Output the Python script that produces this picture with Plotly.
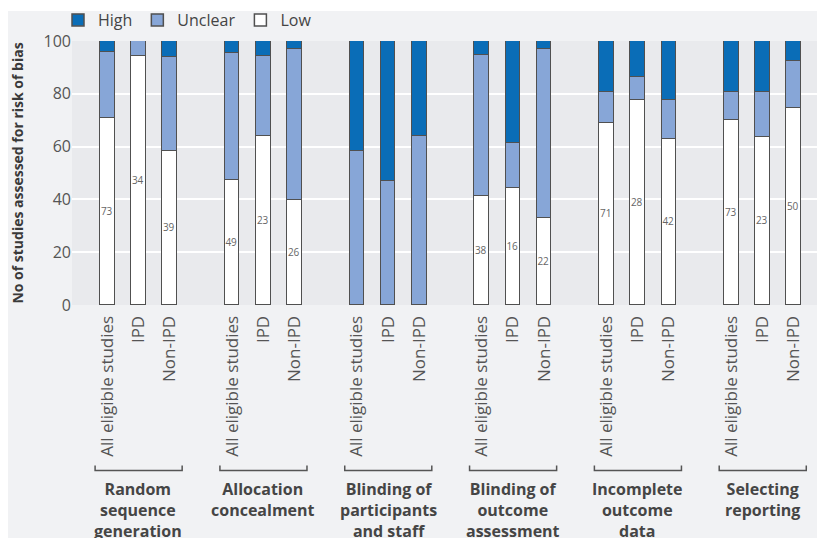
import plotly.graph_objects as go

groups = ["Random<br>sequence<br>generation", "Allocation<br>concealment",
          "Blinding of<br>participants<br>and staff", "Blinding of<br>outcome<br>assessment",
          "Incomplete<br>outcome<br>data", "Selecting<br>reporting"]
subgroups = ["All eligible studies", "IPD", "Non-IPD"]

low = [70.9, 94.4, 58.4, 47.4, 64.0, 39.6, 0, 0, 0,
       41.3, 44.4, 32.8, 68.8, 77.8, 62.8, 70.2, 63.8, 74.5]
unclear = [25.1, 5.6, 35.6, 47.9, 30.4, 57.4, 58.3, 47.0, 64.0,
           53.5, 16.8, 64.2, 11.8, 8.4, 14.9, 10.6, 16.8, 18.1]
high = [4.0, 0, 6.0, 4.7, 5.6, 3.0, 41.7, 53.0, 36.0,
        5.2, 38.8, 3.0, 19.4, 13.8, 22.3, 19.2, 19.4, 7.4]
low_counts = ["73", "34", "39", "49", "23", "26", "", "", "",
              "38", "16", "22", "71", "28", "42", "73", "23", "50"]
y_ticks = [0, 20, 40, 60, 80, 100]

# x positions: 3 bars per group with one empty slot between groups
xpos = [g * 4 + i for g in range(len(groups)) for i in range(3)]
xlabels = [s for _ in groups for s in subgroups]

FONT = "Open Sans"
TXT = "#555555"
OUT = "#505050"

fig = go.Figure()
common = dict(x=xpos, width=0.47, marker_line=dict(color=OUT, width=1.5))
fig.add_trace(go.Bar(name="Low", y=low, marker_color="#ffffff",
                     text=low_counts, textposition="inside", insidetextanchor="middle",
                     constraintext="none", textangle=0,
                     textfont=dict(size=10, color="#666666", family=FONT), **common))
fig.add_trace(go.Bar(name="Unclear", y=unclear, marker_color="#87a6d7",
                     textposition="none", **common))
fig.add_trace(go.Bar(name="High", y=high, marker_color="#0a6db7",
                     textposition="none", **common))

# page is offset by the 8px body margin
OFF = 8
W, H = 825 - OFF, 538 - OFF
L, R, T = 72 - OFF, 0, 41 - OFF
B = H - (304.7 - OFF)
ph = H - T - B
pw = W - L - R

def py(pix):
    return (H - B - (pix - OFF)) / ph

def px(pix):
    return (pix - OFF - L) / pw

shapes = []
annotations = []
for g, label in enumerate(groups):
    x0 = g * 4 - 0.39
    x1 = g * 4 + 2 + 0.40
    yb = py(470)
    yt = py(465)
    shapes.append(dict(type="path", xref="x", yref="paper",
                       path=f"M {x0},{yt} L {x0},{yb} L {x1},{yb} L {x1},{yt}",
                       line=dict(color="#555555", width=1.5)))
    annotations.append(dict(x=g * 4 + 1, y=py(476), xref="x", yref="paper",
                            text=f"<b>{label}</b>", showarrow=False, yanchor="top",
                            xanchor="center", align="center",
                            font=dict(size=16, color="#454545", family=FONT)))

# thin white strip above the grey panel
shapes.append(dict(type="rect", xref="paper", yref="paper", x0=px(0), x1=px(830),
                   y0=py(11), y1=py(0), fillcolor="white", line_width=0, layer="below"))

fig.update_layout(
    width=W, height=H,
    margin=dict(l=L, r=R, t=T, b=B, pad=0, autoexpand=False),
    barmode="stack",
    bargap=0,
    paper_bgcolor="#f1f2f4",
    plot_bgcolor="#e9eaed",
    font=dict(family=FONT, color=TXT),
    showlegend=True,
    legend=dict(orientation="h", traceorder="reversed", x=px(58), xanchor="left",
                y=py(20), yanchor="middle", font=dict(size=16, color="#444444"),
                bgcolor="rgba(0,0,0,0)", itemclick=False),
    xaxis=dict(tickmode="array", tickvals=xpos, ticktext=xlabels, tickangle=-90,
               range=[-1.13, 23.0], showgrid=False, zeroline=False, ticks="outside",
               ticklen=3, tickcolor="rgba(0,0,0,0)", automargin=False,
               tickfont=dict(size=17, color=TXT, family=FONT)),
    yaxis=dict(range=[0, 100], tickvals=y_ticks, showgrid=True, gridcolor="white",
               gridwidth=2, zeroline=False, ticks="", automargin=False,
               tickfont=dict(size=16, color=TXT),
               title=dict(text="<b>No of studies assessed for risk of bias</b>",
                          font=dict(size=14, color="#3a3a3a", family=FONT), standoff=17)),
    shapes=shapes,
    annotations=annotations,
)

fig.write_html("out.html")
